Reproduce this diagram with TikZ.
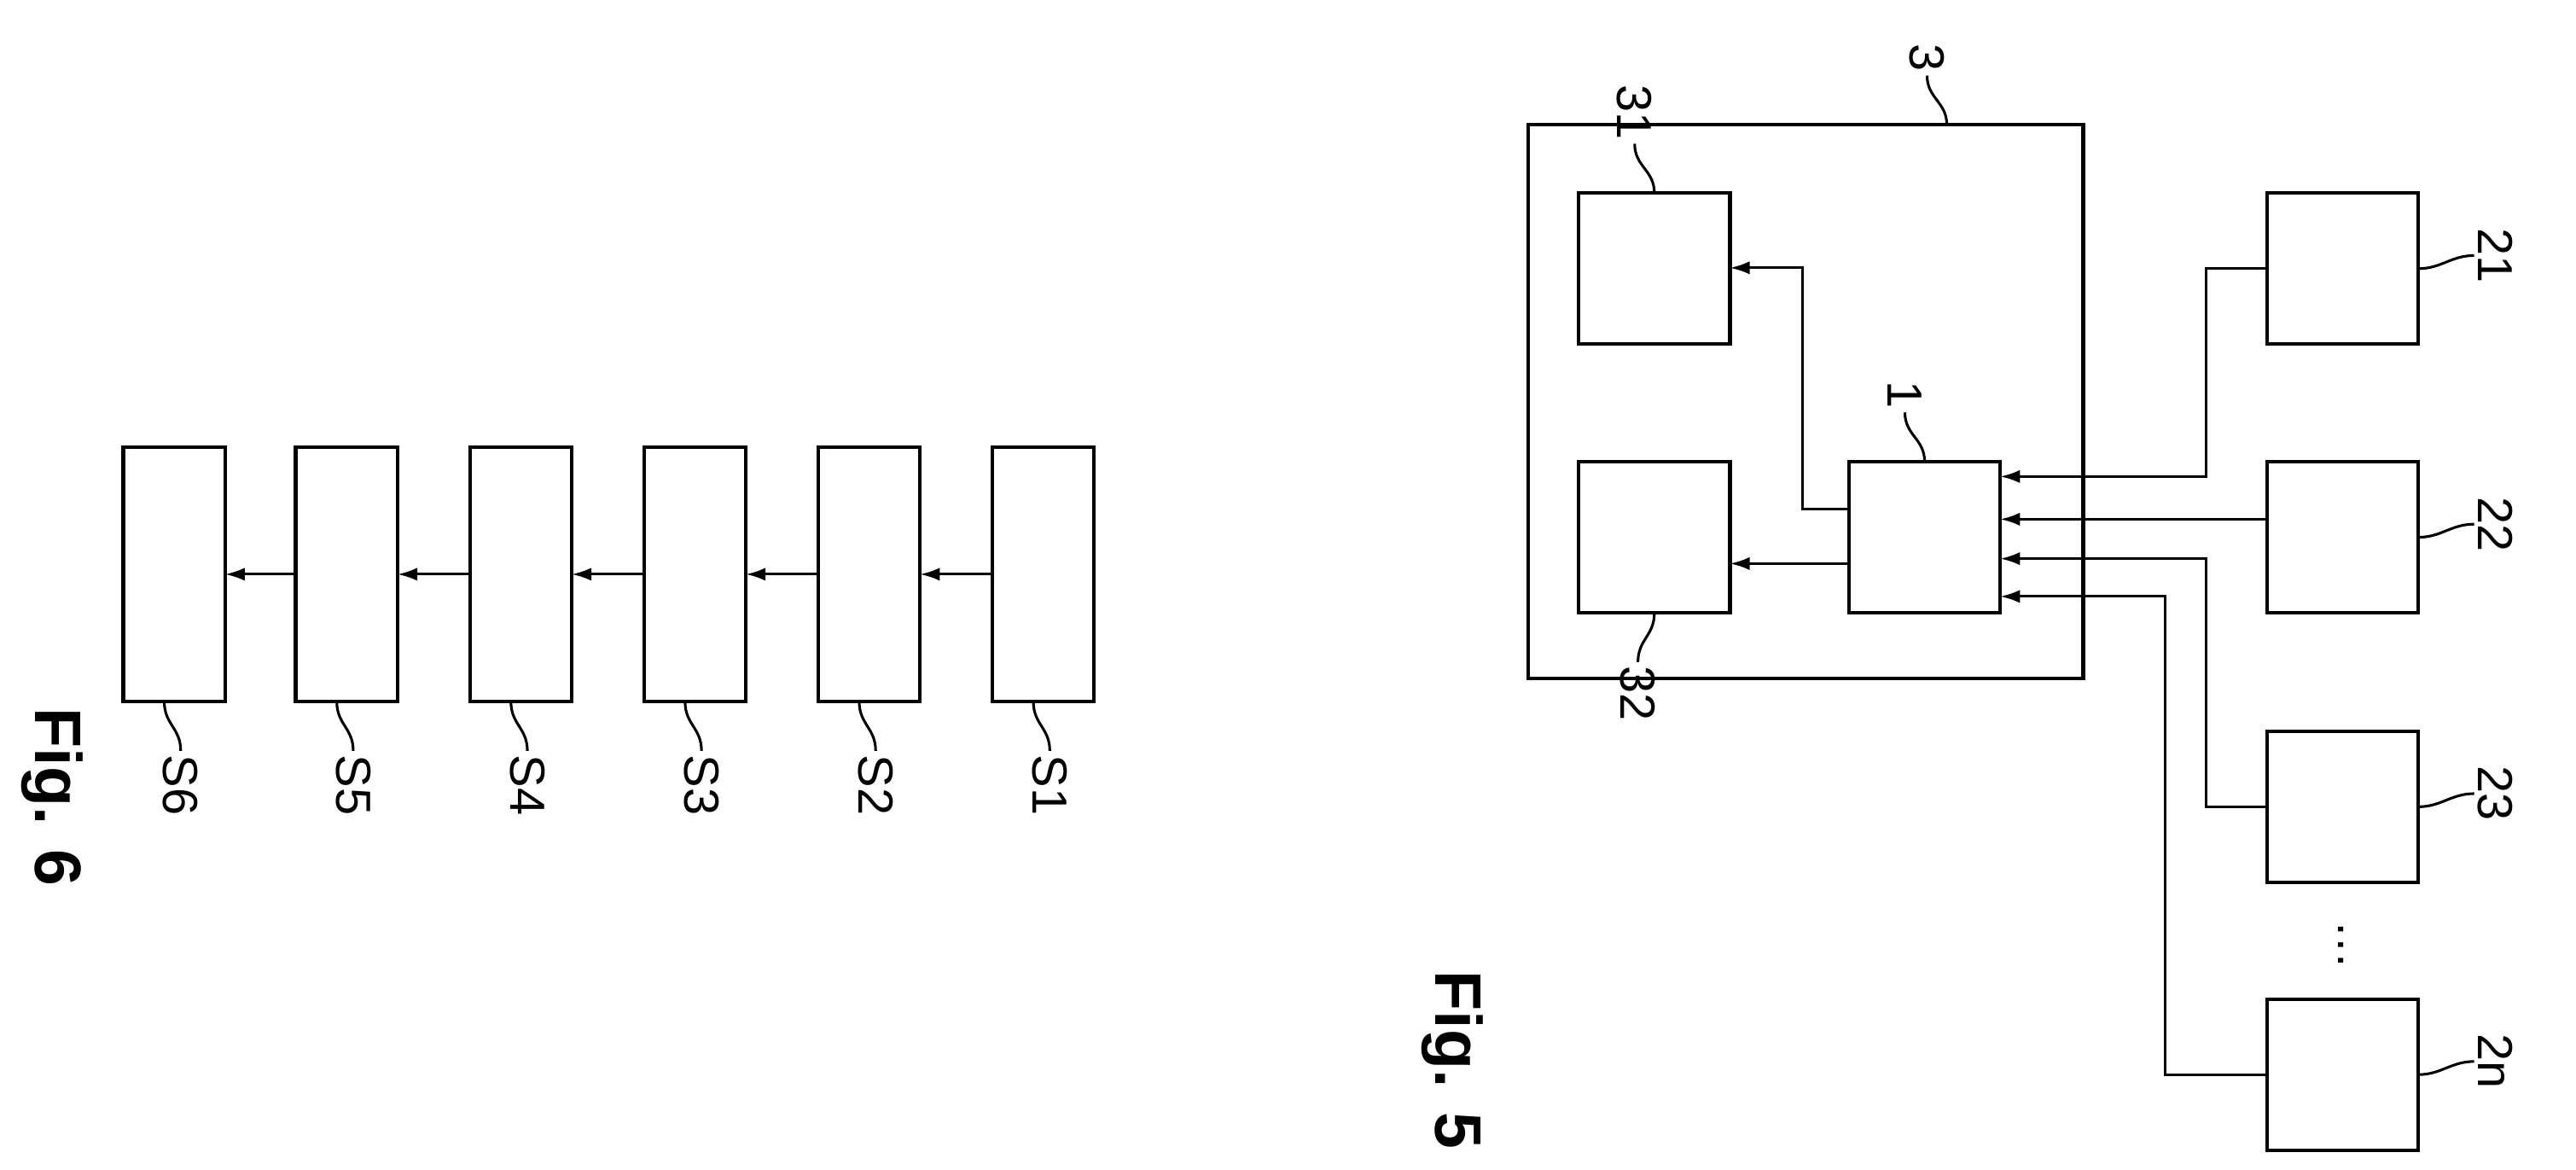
\documentclass[tikz,border=0pt]{standalone}
\usepackage{fontspec}
\setmainfont{Liberation Sans}
\usetikzlibrary{calc,arrows.meta}
\begin{document}
\begin{tikzpicture}[x=0.5pt,y=-0.5pt,
 box/.style={draw,line width=1.1pt,inner sep=0,outer sep=0},
 sbox/.style={box,minimum width=31pt,minimum height=77.5pt},
 qbox/.style={box,minimum width=46pt,minimum height=46pt},
 arr/.style={line width=0.8pt,-{Latex[length=6pt,width=4pt]}},
 lead/.style={line width=0.8pt},
 lab/.style={rotate=-90,anchor=west,font=\fontsize{15}{15}\selectfont,inner sep=1pt},
 fig/.style={rotate=-90,font=\bfseries\fontsize{20}{20}\selectfont}]
\useasboundingbox (0,0) rectangle (1568,712);
% Fig 6
\foreach \i/\x in {6/106,5/211,4/317,3/423,2/529,1/635}{
  \node[sbox] (s\i) at (\x,349.5) {};
  \draw[lead] ($(s\i.south)+(-6,0)$) .. controls +(0,14) and +(0,-14) .. ++(10,30) coordinate (ls\i);
  \node[lab] (ts\i) at (ls\i) {S\i};
}
\foreach \a/\b in {1/2,2/3,3/4,4/5,5/6}{\draw[arr] (s\a.west) -- (s\b.east);}
\node[fig] (f6) at (32,485) {Fig. 6};
% Fig 5
\node[box,minimum width=169pt,minimum height=168.5pt] (n3) at (1099,244.5) {};
\node[qbox] (n31) at (1007,163.5) {};
\node[qbox] (n32) at (1007,327) {};
\node[qbox] (n1) at (1171.5,327) {};
\node[qbox] (n21) at (1426,163.5) {};
\node[qbox] (n22) at (1426,327) {};
\node[qbox] (n23) at (1426,491) {};
\node[qbox] (n2n) at (1426,654) {};
\draw[arr] (n1.west |- 0,310) -| (1097,163) -- (n31.east |- 0,163);
\draw[arr] (n1.west |- 0,343) -- (n32.east |- 0,343);
\draw[arr] (n21.west) -| (1343,290) -- (n1.east |- 0,290);
\draw[arr] (n22.west |- 0,316) -- (n1.east |- 0,316);
\draw[arr] (n23.west) -| (1343,340) -- (n1.east |- 0,340);
\draw[arr] (n2n.west) -| (1318,363) -- (n1.east |- 0,363);
\node[rotate=-90,font=\fontsize{15}{15}\selectfont] (dots) at (1425,575) {\dots};
% leaders
\draw[lead] ($(n3.north)+(86,0)$) .. controls +(0,-14) and +(0,14) .. ++(-12,-30) coordinate (l3);
\node[lab,anchor=east] (t3) at (l3) {3};
\draw[lead] ($(n31.north)+(0,0)$) .. controls +(0,-14) and +(0,14) .. ++(-12,-30) coordinate (l31);
\node[lab,anchor=east] (t31) at (l31) {31};
\draw[lead] ($(n1.north)+(0,0)$) .. controls +(0,-14) and +(0,14) .. ++(-12,-30) coordinate (l1);
\node[lab,anchor=east] (t1) at (l1) {1};
\draw[lead] ($(n32.south)+(0,0)$) .. controls +(0,14) and +(0,-14) .. ++(-10,30) coordinate (l32);
\node[lab] (t32) at (l32) {32};
\foreach \n/\t in {n21/21,n22/22,n23/23,n2n/2n}{
  \draw[lead] (\n.east) .. controls +(14,0) and +(-14,0) .. ++(34,-8) coordinate (l\t);
  \node[rotate=-90,anchor=south,font=\fontsize{15}{15}\selectfont,inner sep=1pt] (t\t) at (l\t) {\t};
}
\node[fig] (f5) at (884,645) {Fig. 5};
\end{tikzpicture}
\end{document}
